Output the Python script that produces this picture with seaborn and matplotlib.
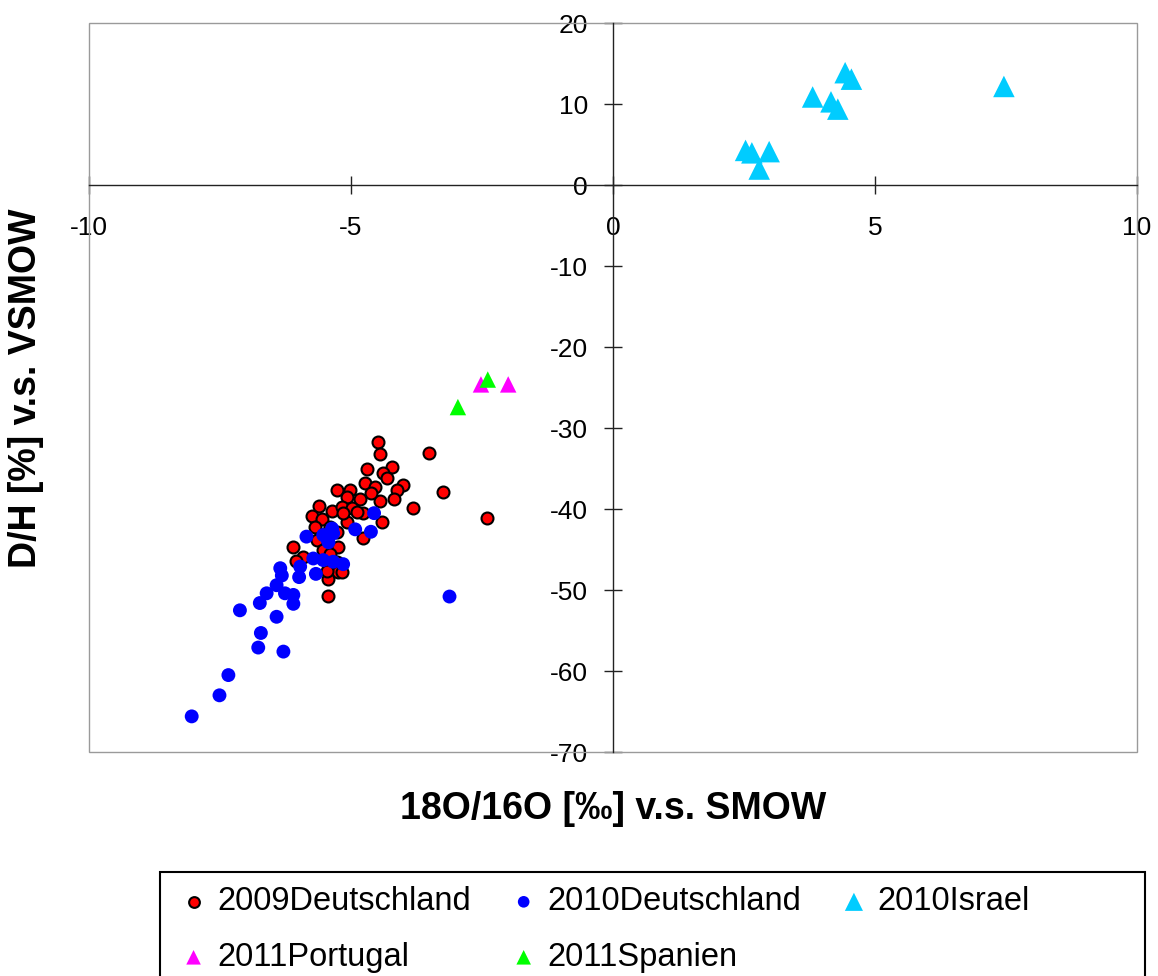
import matplotlib
matplotlib.use("Agg")
import matplotlib.pyplot as plt
import seaborn as sns
from matplotlib.patches import Rectangle

# delta 18O (x) and delta D (y) per sample series
de2009_x = [-4.48, -4.45, -3.51, -4.21, -4.70, -4.38, -4.32, -4.00, -4.13, -3.25,
            -4.73, -4.54, -5.27, -5.02, -4.83, -4.45, -4.17, -3.82, -5.08, -5.62,
            -5.37, -5.75, -5.56, -5.18, -4.99, -4.77, -4.40, -5.08, -5.69, -5.27,
            -5.46, -4.78, -5.65, -5.24, -6.10, -5.53, -5.40, -5.91, -6.05, -5.27,
            -5.24, -5.43, -5.46, -5.44, -2.41, -5.18, -4.61, -4.89, -5.40, -5.15]
de2009_y = [-31.7, -33.2, -33.1, -34.8, -35.1, -35.6, -36.1, -37.0, -37.6, -37.9,
            -36.8, -37.3, -37.7, -37.7, -38.8, -39.0, -38.7, -39.9, -38.5, -39.6,
            -40.2, -40.8, -41.2, -39.8, -39.9, -40.5, -41.6, -41.6, -42.2, -42.8,
            -43.0, -43.6, -43.8, -44.7, -44.7, -45.0, -45.5, -45.9, -46.4, -46.5,
            -47.8, -48.6, -47.6, -50.7, -41.1, -47.8, -38.0, -40.3, -42.2, -40.5]

de2010_x = [-4.56, -4.92, -4.62, -5.85, -5.53, -5.36, -5.46, -5.72, -5.53, -5.34,
            -5.15, -5.97, -5.99, -5.67, -6.35, -6.32, -6.42, -6.61, -6.26, -6.10,
            -6.10, -6.74, -7.12, -6.42, -6.72, -6.77, -6.29, -7.34, -7.51, -8.04,
            -3.12, -5.34, -5.43]
de2010_y = [-40.5, -42.5, -42.8, -43.4, -43.2, -42.4, -43.6, -46.1, -46.3, -46.5,
            -46.8, -47.1, -48.4, -48.0, -47.3, -48.2, -49.4, -50.4, -50.4, -50.6,
            -51.7, -51.6, -52.5, -53.3, -55.3, -57.1, -57.6, -60.5, -63.0, -65.6,
            -50.8, -43.0, -44.1]

il2010_x = [4.43, 4.55, 7.46, 3.81, 4.16, 4.29, 2.53, 2.65, 2.98, 2.79]
il2010_y = [13.9, 13.1, 12.2, 10.9, 10.3, 9.4, 4.3, 4.0, 4.15, 2.0]

pt2011_x = [-2.52, -2.00]
pt2011_y = [-24.6, -24.6]

es2011_x = [-2.39, -2.96]
es2011_y = [-24.0, -27.4]

x_ticks = [-10, -5, 0, 5, 10]
y_ticks = [-70, -60, -50, -40, -30, -20, -10, 0, 10, 20]

sns.set_theme(style="white")
plt.rcParams["font.family"] = ["Liberation Sans", "DejaVu Sans"]
plt.rcParams["axes.unicode_minus"] = False
plt.rcParams["text.color"] = "black"

W, H = 1158, 976
fig = plt.figure(figsize=(W / 100, H / 100), dpi=100)
fig.patch.set_facecolor("white")
ax = fig.add_axes([89 / W, (H - 752) / H, (1137 - 89) / W, (752 - 23.3) / H])

sns.scatterplot(x=de2009_x, y=de2009_y, ax=ax, color="#FF0000", marker="o",
                s=74, edgecolor="black", linewidth=1.5, label="2009Deutschland", zorder=3)
sns.scatterplot(x=de2010_x, y=de2010_y, ax=ax, color="#0000FF", marker="o",
                s=100, edgecolor="none", linewidth=0, label="2010Deutschland", zorder=4)
sns.scatterplot(x=il2010_x, y=il2010_y, ax=ax, color="#00CCFF", marker="^",
                s=240, edgecolor="none", linewidth=0, label="2010Israel", zorder=4)
sns.scatterplot(x=pt2011_x, y=pt2011_y, ax=ax, color="#FF00FF", marker="^",
                s=140, edgecolor="none", linewidth=0, label="2011Portugal", zorder=4)
sns.scatterplot(x=es2011_x, y=es2011_y, ax=ax, color="#00FF00", marker="^",
                s=140, edgecolor="none", linewidth=0, label="2011Spanien", zorder=5)

ax.set_xlim(-10, 10)
ax.set_ylim(-70, 20)
ax.set_xticks(x_ticks)
ax.set_yticks(y_ticks)
ax.set_xlabel("")
ax.set_ylabel("")

# axes cross at the origin, plot area framed in grey
for side in ("top", "right"):
    ax.spines[side].set_visible(False)
ax.spines["left"].set_position(("data", 0))
ax.spines["bottom"].set_position(("data", 0))
for side in ("left", "bottom"):
    ax.spines[side].set_color("#222222")
    ax.spines[side].set_linewidth(1.0)
ax.add_patch(Rectangle((0, 0), 1, 1, transform=ax.transAxes, fill=False,
                       edgecolor="#9a9a9a", linewidth=1.0, zorder=1, clip_on=False))

ax.tick_params(axis="both", which="major", bottom=True, left=True, top=False, right=False,
               direction="inout", length=13, width=1.0,
               color="#222222", labelsize=19, labelcolor="black")
ax.tick_params(axis="x", pad=15.5)
ax.tick_params(axis="y", pad=11.5)

fig.text(613 / W, 1 - 819 / H, "18O/16O [‰] v.s. SMOW", ha="center", va="baseline",
         fontsize=27, fontweight="bold", color="black")
fig.text(26 / W, 1 - 388 / H, "D/H [%] v.s. VSMOW", rotation=90, ha="center",
         va="center", fontsize=27, fontweight="bold", color="black")

handles, labels = ax.get_legend_handles_labels()
ax.get_legend().remove()
# row-wise ordering across three columns
order = [0, 3, 1, 4, 2]
legend_sizes = [60, 70, 170, 110, 110]
leg = fig.legend([handles[i] for i in order], [labels[i] for i in order], loc="upper left",
                 bbox_to_anchor=(159.6 / W, 1 - 871.7 / H), bbox_transform=fig.transFigure,
                 ncol=3, fontsize=23.5, frameon=False, borderpad=0.45,
                 handlelength=1.18, handletextpad=0.14, columnspacing=1.02,
                 labelspacing=0.75, borderaxespad=0)
for h, i in zip(leg.legend_handles, order):
    h.set_sizes([legend_sizes[i]])
for t in leg.get_texts():
    t.set_color("black")
fig.add_artist(Rectangle((159.6 / W, -0.05), (1145 - 159.6) / W, (H - 871.7) / H + 0.05,
                         transform=fig.transFigure, fill=False, edgecolor="black",
                         linewidth=1.5))

fig.savefig("out.png", dpi=100, facecolor="white")
